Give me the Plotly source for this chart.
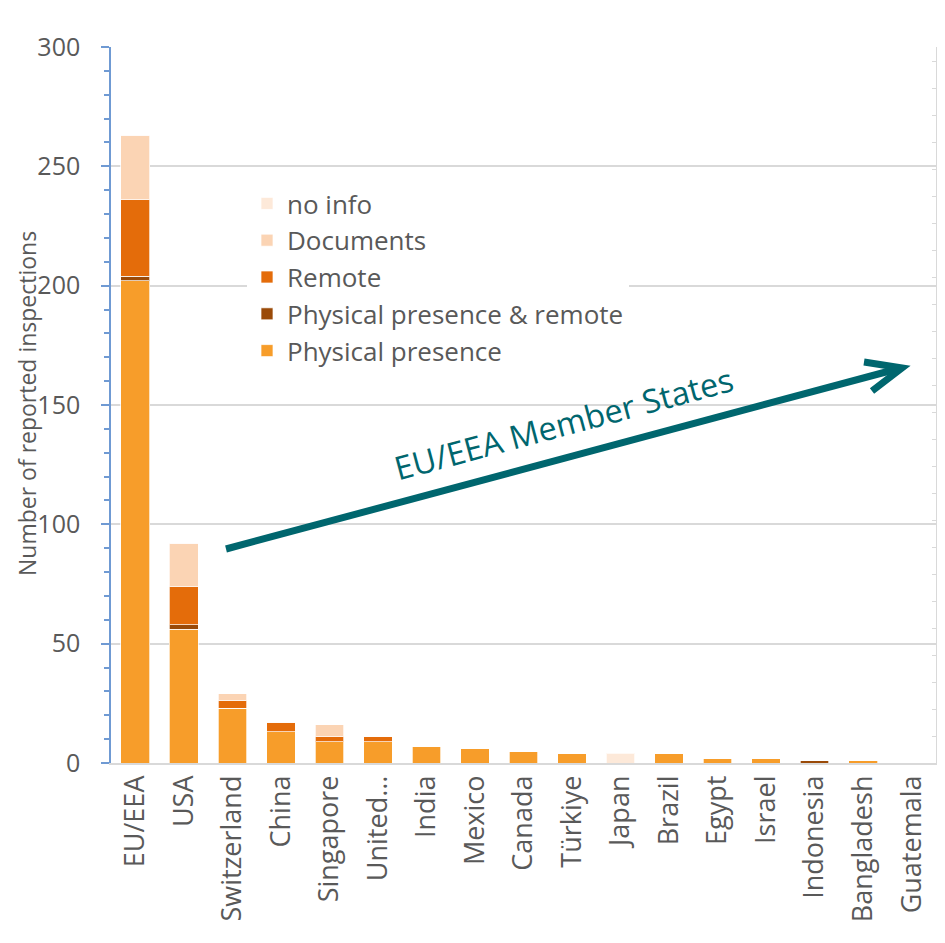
import plotly.graph_objects as go

categories = ['EU/EEA', 'USA', 'Switzerland', 'China', 'Singapore', 'United...', 'India',
              'Mexico', 'Canada', 'Türkiye', 'Japan', 'Brazil', 'Egypt', 'Israel',
              'Indonesia', 'Bangladesh', 'Guatemala']
physical_presence = [202, 56, 23, 13, 9, 9, 7, 6, 5, 4, 0, 4, 2, 2, 0, 1, 0]
physical_and_remote = [2, 2, 0, 0, 0, 0, 0, 0, 0, 0, 0, 0, 0, 0, 1, 0, 0]
remote = [32, 16, 3, 4, 2, 2, 0, 0, 0, 0, 0, 0, 0, 0, 0, 0, 0]
documents = [27, 18, 3, 0, 5, 0, 0, 0, 0, 0, 0, 0, 0, 0, 0, 0, 0]
no_info = [0, 0, 0, 0, 0, 0, 0, 0, 0, 0, 4, 0, 0, 0, 0, 0, 0]
y_title = 'Number of reported inspections'

series = [
    ('Physical presence', physical_presence, '#F79D2A'),
    ('Physical presence & remote', physical_and_remote, '#9A4A08'),
    ('Remote', remote, '#E46C0A'),
    ('Documents', documents, '#FBD4B4'),
    ('no info', no_info, '#FDE9D9'),
]

FONT = 'Open Sans'
TXT = '#595959'
TEAL = '#00666E'

# page has an 8px body margin, so the figure is shrunk and shifted accordingly
OFF = 8
W, H = 945 - OFF, 943 - OFF
L, R, T, B = 111 - OFF, 9, 47 - OFF, 180
PW, PH = W - L - R, H - T - B


def px(x):
    # x in screenshot pixels -> paper fraction
    return (x - OFF - L) / PW


def py(y):
    return (H - B - (y - OFF)) / PH


fig = go.Figure()
for name, vals, col in series:
    fig.add_trace(go.Bar(
        x=categories, y=vals, name=name,
        marker=dict(color=col, line=dict(color='rgba(255,255,255,0.7)', width=1)),
        hoverinfo='skip'))

# helper trace for the secondary (right) axis line
fig.add_trace(go.Bar(x=[categories[0]], y=[0], yaxis='y2', showlegend=False,
                     hoverinfo='skip', marker=dict(color='rgba(0,0,0,0)')))

fig.update_layout(
    width=W, height=H,
    margin=dict(l=L, r=R, t=T, b=B, autoexpand=False),
    barmode='stack', bargap=0.41,
    plot_bgcolor='white', paper_bgcolor='white',
    font=dict(family=FONT, color=TXT),
    showlegend=True,
    legend=dict(
        x=px(247), y=py(180), xanchor='left', yanchor='top',
        traceorder='reversed', bgcolor='white',
        font=dict(family=FONT, size=26, color=TXT),
        tracegroupgap=0, itemwidth=30,
    ),
    xaxis=dict(
        type='category', range=[-0.5, 16.5], automargin=False,
        showline=True, linecolor='#D9D9D9', linewidth=1.5,
        ticks='', tickangle=-90, tickfont=dict(family=FONT, size=27, color=TXT),
        showgrid=False,
    ),
    yaxis=dict(
        range=[0, 300], dtick=50, showgrid=True, gridcolor='#D9D9D9', gridwidth=1.5,
        automargin=False,
        showline=True, linecolor='#6F9AD3', linewidth=1.5,
        ticks='outside', ticklen=8, tickcolor='#6F9AD3', tickwidth=1.5,
        minor=dict(dtick=10, ticks='outside', ticklen=5, tickcolor='#6F9AD3', tickwidth=1.5,
                   showgrid=False),
        tickfont=dict(family=FONT, size=25, color=TXT),
        ticklabelstandoff=16,
        zeroline=False,
    ),
    yaxis2=dict(
        overlaying='y', side='right', range=[0, 26.52], dtick=1, automargin=False,
        showline=True, linecolor='#D9D9D9', linewidth=1.5,
        ticks='inside', ticklen=4, tickcolor='#D9D9D9',
        showticklabels=False, showgrid=False, zeroline=False,
    ),
    shapes=[
        dict(type='line', xref='paper', yref='paper',
             x0=px(226), y0=py(549), x1=px(897), y1=py(369),
             line=dict(color=TEAL, width=7)),
        dict(type='path', xref='paper', yref='paper',
             path=f'M {px(864)} {py(362)} L {px(902)} {py(368)} L {px(872)} {py(391)}',
             line=dict(color=TEAL, width=7)),
    ],
    annotations=[
        dict(text='EU/EEA Member States', xref='paper', yref='paper',
             x=px(563), y=py(423), showarrow=False, textangle=-15,
             font=dict(family=FONT, size=32.5, color=TEAL)),
        dict(text=y_title, xref='paper', yref='paper',
             x=px(27), y=py(404), showarrow=False, textangle=-90,
             xanchor='center', yanchor='middle', borderpad=0,
             font=dict(family=FONT, size=23, color=TXT)),
    ],
)

fig.write_html('out.html')
